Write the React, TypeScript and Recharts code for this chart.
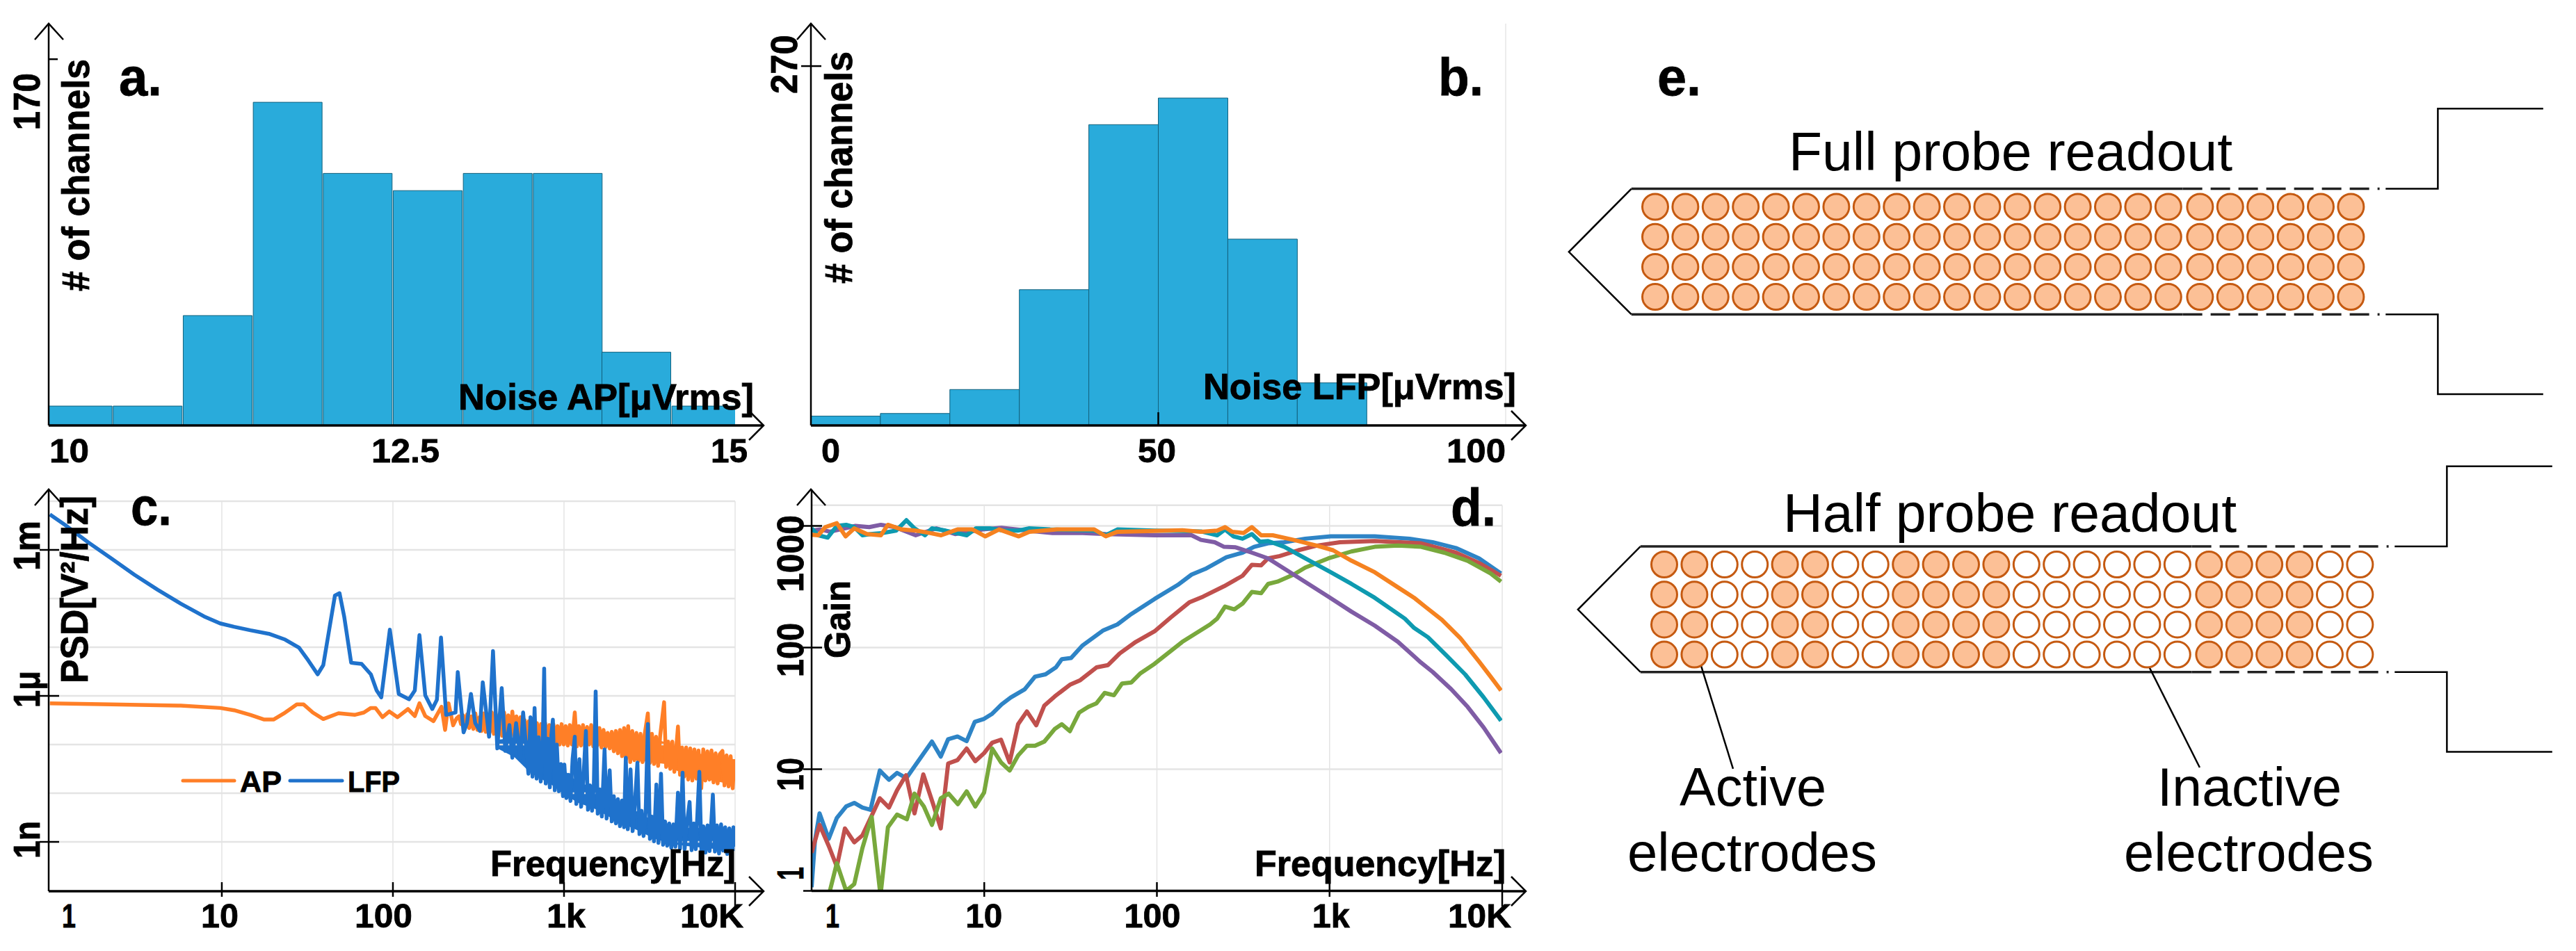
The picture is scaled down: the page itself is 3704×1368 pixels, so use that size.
import { Area, Bar, ComposedChart, Line, ReferenceLine, Scatter, XAxis, YAxis } from 'recharts';

const PAGE_W = 3704;
const PAGE_H = 1368;
const FONT = '"Liberation Sans", Arial, sans-serif';

// a. histogram of AP noise, [bin centre in uVrms, channels]
const apNoiseBins = [10.21, 10.72, 11.23, 11.74, 12.25, 12.76, 13.27, 13.78, 14.28, 14.79];
const apNoiseCounts = [9, 9, 51, 150, 117, 109, 117, 117, 34, 9];

// b. histogram of LFP noise
const lfpNoiseBins = [5, 15, 25, 35, 45, 55, 65, 75];
const lfpNoiseCounts = [7, 9, 27, 102, 226, 246, 140, 32];

// c. PSD, pairs of [log10 Hz, log10 V2/Hz]
const lfpPsd = [
  [-0.005, -2.27], [0.083, -2.486], [0.218, -2.843], [0.354, -3.176], [0.489, -3.51], [0.625, -3.82], [0.76, -4.105],
  [0.896, -4.367], [0.99, -4.51], [1.072, -4.58], [1.167, -4.652], [1.275, -4.724], [1.37, -4.843], [1.451, -5.01],
  [1.505, -5.27], [1.56, -5.557], [1.593, -5.367], [1.627, -4.652], [1.661, -3.938], [1.688, -3.89], [1.715, -4.367],
  [1.756, -5.319], [1.817, -5.343], [1.871, -5.557], [1.905, -5.89], [1.932, -6.03], [1.982, -4.64], [2.034, -5.96],
  [2.094, -6.07], [2.128, -5.89], [2.155, -4.75], [2.189, -5.99], [2.23, -6.27], [2.257, -6.08], [2.281, -4.8],
  [2.311, -6.39], [2.366, -6.34], [2.379, -5.51], [2.413, -6.75], [2.433, -6.56], [2.456, -5.96], [2.481, -6.56],
  [2.508, -6.72], [2.525, -5.72], [2.562, -6.84], [2.585, -5.08], [2.61, -7.08], [2.636, -5.84], [2.657, -7.13],
  [2.681, -6.6], [2.698, -7.27], [2.72, -6.56], [2.745, -7.27], [2.761, -6.34], [2.792, -7.6], [2.804, -6.44],
  [2.816, -7.66], [2.828, -6.25], [2.84, -7.7], [2.852, -6.85], [2.864, -7.76], [2.876, -6.9], [2.884, -5.44],
  [2.893, -7.8], [2.905, -6.88], [2.917, -7.88], [2.926, -6.8], [2.935, -6.49], [2.946, -7.94], [2.958, -7.0],
  [2.97, -7.96], [2.982, -7.4], [2.994, -8.06], [3.002, -7.41], [3.014, -8.1], [3.026, -7.62], [3.038, -8.16],
  [3.05, -7.3], [3.063, -6.84], [3.072, -8.22], [3.082, -7.72], [3.09, -7.3], [3.1, -8.28], [3.112, -7.78],
  [3.128, -6.72], [3.14, -8.34], [3.152, -7.84], [3.164, -8.36], [3.174, -7.86], [3.185, -5.91], [3.197, -8.42],
  [3.209, -7.92], [3.221, -8.48], [3.237, -7.1], [3.249, -8.52], [3.258, -8.0], [3.267, -7.53], [3.279, -8.58],
  [3.291, -8.06], [3.303, -8.62], [3.315, -8.12], [3.327, -8.68], [3.339, -8.15], [3.351, -8.7], [3.361, -7.27],
  [3.373, -8.74], [3.389, -7.51], [3.401, -8.78], [3.413, -8.28], [3.429, -7.37], [3.441, -8.84], [3.453, -8.36],
  [3.465, -8.88], [3.477, -8.4], [3.49, -6.58], [3.502, -8.94], [3.514, -8.48], [3.526, -8.99], [3.54, -7.82],
  [3.552, -9.02], [3.567, -7.6], [3.579, -9.06], [3.591, -8.58], [3.603, -9.08], [3.615, -8.62], [3.627, -9.12],
  [3.639, -8.64], [3.651, -9.1], [3.666, -7.99], [3.678, -9.14], [3.693, -7.58], [3.705, -9.15], [3.717, -8.66],
  [3.734, -8.18], [3.746, -9.17], [3.758, -8.62], [3.77, -9.15], [3.791, -7.56], [3.803, -9.18], [3.815, -8.68],
  [3.827, -9.22], [3.839, -8.66], [3.851, -9.19], [3.87, -8.03], [3.882, -9.2], [3.894, -8.66], [3.906, -9.24],
  [3.918, -8.64], [3.93, -9.18], [3.942, -8.7], [3.954, -9.25], [3.966, -8.72], [3.978, -9.22], [3.99, -8.7], [4.0, -9.1],
];

const apPsd = [
  [-0.005, -6.152], [0.354, -6.176], [0.76, -6.2], [0.99, -6.248], [1.072, -6.295], [1.167, -6.39], [1.248, -6.486],
  [1.302, -6.486], [1.37, -6.343], [1.438, -6.176], [1.478, -6.176], [1.532, -6.343], [1.593, -6.476], [1.682, -6.357],
  [1.776, -6.39], [1.83, -6.343], [1.871, -6.248], [1.898, -6.248], [1.939, -6.438], [1.979, -6.32], [2.027, -6.438],
  [2.088, -6.271], [2.128, -6.414], [2.155, -6.152], [2.189, -6.414], [2.237, -6.519], [2.284, -6.224], [2.305, -6.7],
  [2.325, -6.152], [2.352, -6.605], [2.372, -6.462], [2.386, -6.42], [2.398, -6.58], [2.41, -6.4], [2.422, -6.62],
  [2.434, -6.38], [2.446, -6.66], [2.458, -6.42], [2.47, -6.68], [2.482, -6.36], [2.494, -6.7], [2.506, -6.44],
  [2.518, -6.72], [2.53, -6.36], [2.542, -6.74], [2.554, -6.4], [2.566, -6.75], [2.578, -6.34], [2.59, -6.78],
  [2.602, -6.38], [2.614, -6.8], [2.626, -6.36], [2.638, -6.82], [2.65, -6.34], [2.662, -6.8], [2.674, -6.4],
  [2.686, -6.84], [2.698, -6.32], [2.71, -6.82], [2.722, -6.42], [2.734, -6.86], [2.746, -6.44], [2.758, -6.84],
  [2.77, -6.5], [2.782, -6.88], [2.794, -6.52], [2.806, -6.86], [2.818, -6.56], [2.83, -6.9], [2.842, -6.56],
  [2.854, -6.92], [2.866, -6.58], [2.878, -6.9], [2.89, -6.56], [2.902, -6.94], [2.914, -6.6], [2.926, -6.96],
  [2.938, -6.58], [2.95, -6.98], [2.962, -6.62], [2.974, -7.0], [2.986, -6.58], [2.998, -7.0], [3.01, -6.62],
  [3.022, -7.02], [3.034, -6.6], [3.046, -7.0], [3.063, -6.34], [3.075, -7.04], [3.087, -6.62], [3.099, -7.02],
  [3.111, -6.6], [3.123, -7.04], [3.135, -6.64], [3.147, -7.0], [3.159, -6.6], [3.171, -7.04], [3.183, -6.6],
  [3.195, -7.02], [3.207, -6.66], [3.219, -7.06], [3.231, -6.7], [3.243, -7.05], [3.255, -6.76], [3.267, -7.08],
  [3.279, -6.74], [3.291, -7.14], [3.303, -6.72], [3.315, -7.18], [3.327, -6.7], [3.339, -7.24], [3.351, -6.66],
  [3.363, -7.3], [3.375, -6.62], [3.387, -7.36], [3.399, -6.72], [3.411, -7.32], [3.423, -6.76], [3.435, -7.34],
  [3.447, -6.78], [3.459, -7.36], [3.471, -6.8], [3.49, -6.36], [3.502, -7.38], [3.514, -6.78], [3.526, -7.4],
  [3.538, -6.84], [3.55, -7.44], [3.562, -6.82], [3.585, -6.13], [3.597, -7.46], [3.609, -6.94], [3.621, -7.5],
  [3.633, -6.94], [3.645, -7.56], [3.666, -6.63], [3.678, -7.62], [3.69, -7.06], [3.702, -7.66], [3.714, -7.06],
  [3.726, -7.72], [3.738, -7.08], [3.75, -7.74], [3.762, -7.1], [3.774, -7.7], [3.786, -7.12], [3.802, -7.9],
  [3.814, -7.1], [3.826, -7.74], [3.838, -7.14], [3.85, -7.72], [3.862, -7.12], [3.874, -7.78], [3.886, -7.18],
  [3.898, -7.8], [3.91, -7.2], [3.926, -7.13], [3.938, -7.84], [3.95, -7.22], [3.962, -7.86], [3.974, -7.24],
  [3.986, -7.9], [3.996, -7.3],
];

// envelope of the noise floor, [log10 Hz, lower, upper]
const apFloor = [
  [2.386, -6.56, -6.44], [2.576, -6.69, -6.42], [2.711, -6.78, -6.4], [2.846, -6.83, -6.62], [2.982, -6.93, -6.64],
  [3.185, -6.97, -6.66], [3.253, -7.0, -6.81], [3.389, -7.31, -6.76], [3.592, -7.4, -6.95], [3.66, -7.54, -7.07],
  [3.795, -7.69, -7.19], [3.996, -7.83, -7.33],
];
const lfpFloor = [
  [2.616, -7.09, -6.9], [2.711, -7.26, -6.86], [2.806, -7.59, -6.86], [2.928, -7.83, -6.9], [2.982, -7.97, -7.47],
  [3.077, -8.19, -7.76], [3.185, -8.33, -7.9], [3.307, -8.57, -8.14], [3.429, -8.76, -8.38], [3.524, -8.93, -8.57],
  [3.619, -9.04, -8.69], [3.727, -9.09, -8.71], [3.863, -9.14, -8.71], [4.0, -9.19, -8.76],
];

// d. gain, pairs of [log10 Hz, log10 gain]
const gainBlue = [
  [0, 0.03], [0.019, 0.408], [0.046, 0.637], [0.099, 0.427], [0.146, 0.599], [0.2, 0.694], [0.247, 0.723], [0.294, 0.685],
  [0.341, 0.666], [0.395, 0.989], [0.448, 0.913], [0.495, 0.97], [0.549, 0.927], [0.603, 1.037], [0.697, 1.227],
  [0.748, 1.104], [0.791, 1.247], [0.845, 1.269], [0.898, 1.231], [0.945, 1.389], [0.999, 1.414], [1.046, 1.456],
  [1.1, 1.532], [1.153, 1.589], [1.234, 1.656], [1.294, 1.761], [1.355, 1.78], [1.415, 1.837], [1.449, 1.904],
  [1.503, 1.914], [1.57, 2.018], [1.69, 2.142], [1.771, 2.19], [1.852, 2.276], [1.986, 2.399], [2.12, 2.514], [2.201, 2.6],
  [2.281, 2.647], [2.402, 2.742], [2.496, 2.78], [2.563, 2.828], [2.644, 2.857], [2.738, 2.866], [2.859, 2.895],
  [3.007, 2.914], [3.262, 2.914], [3.463, 2.895], [3.597, 2.866], [3.732, 2.818], [3.866, 2.733], [3.993, 2.609],
];
const gainRed = [
  [0, 0.313], [0.046, 0.542], [0.099, 0.37], [0.146, 0.2], [0.193, 0.513], [0.247, 0.399], [0.294, 0.456], [0.348, 0.618],
  [0.395, 0.761], [0.448, 0.685], [0.495, 0.827], [0.547, 0.951], [0.596, 0.637], [0.647, 0.957], [0.704, 0.713],
  [0.748, 0.513], [0.791, 1.047], [0.845, 1.075], [0.898, 1.17], [0.948, 1.066], [0.999, 1.132], [1.046, 1.218],
  [1.097, 1.243], [1.147, 1.056], [1.196, 1.37], [1.247, 1.475], [1.301, 1.361], [1.348, 1.523], [1.409, 1.599],
  [1.496, 1.694], [1.556, 1.732], [1.65, 1.837], [1.717, 1.856], [1.785, 1.952], [1.878, 2.047], [1.986, 2.133],
  [2.08, 2.247], [2.187, 2.371], [2.268, 2.419], [2.389, 2.504], [2.496, 2.59], [2.55, 2.68], [2.604, 2.676], [2.644, 2.733],
  [2.711, 2.752], [2.819, 2.8], [2.926, 2.838], [3.06, 2.866], [3.262, 2.876], [3.53, 2.857], [3.732, 2.78], [3.866, 2.695],
  [3.993, 2.59],
];
const gainGreen = [
  [0.099, -0.039], [0.146, 0.227], [0.2, 0], [0.247, 0.056], [0.294, 0.351], [0.348, 0.608], [0.399, -0.039], [0.442, 0.523],
  [0.495, 0.627], [0.552, 0.589], [0.596, 0.799], [0.65, 0.694], [0.697, 0.542], [0.748, 0.761], [0.794, 0.799],
  [0.847, 0.713], [0.898, 0.818], [0.948, 0.694], [0.999, 0.808], [1.046, 1.17], [1.097, 1.056], [1.147, 0.989],
  [1.196, 1.113], [1.247, 1.193], [1.294, 1.193], [1.348, 1.227], [1.409, 1.332], [1.449, 1.37], [1.496, 1.313],
  [1.55, 1.466], [1.603, 1.513], [1.65, 1.542], [1.697, 1.627], [1.751, 1.608], [1.798, 1.704], [1.852, 1.713],
  [1.905, 1.789], [1.986, 1.866], [2.147, 2.047], [2.308, 2.19], [2.349, 2.238], [2.395, 2.337], [2.449, 2.314],
  [2.496, 2.361], [2.55, 2.457], [2.604, 2.447], [2.644, 2.523], [2.698, 2.542], [2.792, 2.6], [2.859, 2.657],
  [2.993, 2.733], [3.127, 2.79], [3.262, 2.828], [3.396, 2.838], [3.53, 2.828], [3.664, 2.78], [3.799, 2.714],
  [3.933, 2.609], [3.993, 2.542],
];
const gainPurple = [
  [0, 2.961], [0.053, 2.971], [0.106, 2.952], [0.254, 3.0], [0.334, 2.99], [0.401, 3.009], [0.482, 2.99], [0.603, 2.923],
  [0.723, 2.98], [0.831, 2.933], [0.992, 2.971], [1.1, 2.984], [1.247, 2.961], [1.395, 2.942], [1.57, 2.942], [1.704, 2.933],
  [1.986, 2.923], [2.201, 2.923], [2.255, 2.885], [2.335, 2.866], [2.389, 2.828], [2.456, 2.824], [2.55, 2.78],
  [2.644, 2.733], [2.792, 2.6], [2.993, 2.419], [3.127, 2.295], [3.262, 2.18], [3.396, 2.047], [3.53, 1.876], [3.597, 1.8],
  [3.705, 1.657], [3.799, 1.514], [3.893, 1.342], [3.993, 1.133],
];
const gainTeal = [
  [0, 2.98], [0.039, 2.923], [0.093, 2.904], [0.146, 3.0], [0.2, 3.009], [0.247, 2.99], [0.294, 2.923], [0.341, 2.933],
  [0.415, 2.942], [0.489, 2.961], [0.549, 3.047], [0.596, 2.98], [0.657, 2.923], [0.697, 2.98], [0.777, 2.961],
  [0.898, 2.923], [0.952, 2.98], [1.032, 2.98], [1.113, 2.961], [1.194, 2.961], [1.261, 2.98], [1.382, 2.971], [1.637, 2.961],
  [1.704, 2.923], [1.771, 2.971], [1.986, 2.961], [2.255, 2.955], [2.349, 2.923], [2.395, 2.971], [2.443, 2.914],
  [2.496, 2.895], [2.55, 2.933], [2.597, 2.87], [2.644, 2.876], [2.738, 2.828], [2.859, 2.733], [3.007, 2.619],
  [3.127, 2.523], [3.262, 2.409], [3.436, 2.238], [3.49, 2.161], [3.57, 2.085], [3.678, 1.933], [3.785, 1.78], [3.893, 1.59],
  [3.993, 1.399],
];
const gainOrange = [
  [0, 2.927], [0.039, 2.923], [0.079, 2.99], [0.146, 3.022], [0.197, 2.914], [0.247, 2.98], [0.321, 2.933], [0.401, 2.923],
  [0.442, 3.009], [0.522, 2.971], [0.603, 2.961], [0.683, 2.942], [0.75, 2.923], [0.845, 2.971], [0.932, 2.971],
  [1.006, 2.914], [1.086, 2.971], [1.2, 2.914], [1.261, 2.952], [1.422, 2.971], [1.637, 2.971], [1.704, 2.914],
  [1.771, 2.952], [1.986, 2.958], [2.147, 2.965], [2.255, 2.952], [2.349, 2.961], [2.395, 2.99], [2.436, 2.952],
  [2.503, 2.942], [2.55, 2.99], [2.604, 2.923], [2.671, 2.923], [2.792, 2.885], [2.926, 2.838], [3.02, 2.8], [3.127, 2.714],
  [3.262, 2.619], [3.396, 2.495], [3.49, 2.409], [3.557, 2.333], [3.651, 2.228], [3.758, 2.076], [3.866, 1.885],
  [3.933, 1.761], [3.993, 1.647],
];

// e. electrode grid and probe outline, in electrode pitches
const electrodeColumns = [0, 1, 2, 3, 4, 5, 6, 7, 8, 9, 10, 11, 12, 13, 14, 15, 16, 17, 18.05, 19.05, 20.05, 21.05, 22.05, 23.05];
const electrodeRows = [0, 1, 2, 3];
const halfActiveColumns = [0, 1, 4, 5, 8, 9, 10, 11, 18.05, 19.05, 20.05, 21.05];
const probeTip = [[-0.79, -0.6], [-2.86, 1.5], [-0.79, 3.58]];
const probeTop = [[-0.79, -0.6], [17.48, -0.6]];
const probeBottom = [[-0.79, 3.58], [17.48, 3.58]];
const probeShankTop = [[17.48, -0.6], [24, -0.6]];
const probeShankBottom = [[17.48, 3.58], [24, 3.58]];
const probeBaseTop = [[24.2, -0.6], [25.93, -0.6], [25.93, -3.27], [29.42, -3.27]];
const probeBaseBottom = [[24.2, 3.58], [25.93, 3.58], [25.93, 6.24], [29.42, 6.24]];
const activeLeader = [[1.13, 3.08], [2.28, 6.8]];
const inactiveLeader = [[15.83, 2.94], [17.74, 6.76]];

const toRows = (pairs: number[][]) => pairs.map(([x, y]) => ({ x, y }));
const toRangeRows = (rows: number[][]) => rows.map(([x, low, high]) => ({ x, y: [low, high] }));
// the axes keep 1px of the chart box, so the plot lands exactly on the frame
const frame = (left: number, top: number, right: number, bottom: number) => ({
  left: left - 1,
  top,
  right: PAGE_W - right,
  bottom: PAGE_H - bottom - 1,
});

function Layer({ children }: { children: React.ReactNode }) {
  return <div style={{ position: 'absolute', left: 0, top: 0, width: PAGE_W, height: PAGE_H }}>{children}</div>;
}

// stretched text so that each label fills the span it has in the figure
function HText({ x0, x1, y, size, bold = true, children }: any) {
  return (
    <text
      x={x0}
      y={y}
      fontFamily={FONT}
      fontSize={size}
      fontWeight={bold ? 700 : 400}
      fill="#000"
      stroke={bold ? '#000' : 'none'}
      strokeWidth={bold ? 0.8 : 0}
      textLength={x1 - x0}
      lengthAdjust="spacingAndGlyphs"
    >
      {children}
    </text>
  );
}

function VText({ x, y0, y1, size, children }: any) {
  return (
    <text
      x={x}
      y={y1}
      transform={`rotate(-90 ${x} ${y1})`}
      fontFamily={FONT}
      fontSize={size}
      fontWeight={700}
      fill="#000"
      stroke="#000"
      strokeWidth={0.8}
      textLength={y1 - y0}
      lengthAdjust="spacingAndGlyphs"
    >
      {children}
    </text>
  );
}

// x tick: spec is [value, label, dx to label centre, label width, tick top, tick bottom]
const xTick = (specs: any[], baseline: number, axisY: number) => (p: any) => {
  const spec = specs.find((s) => s[0] === p.payload.value);
  if (!spec) return <g />;
  const [, label, dx, w, up, down] = spec;
  return (
    <g>
      {up ? <line x1={p.x} x2={p.x} y1={axisY - up} y2={axisY + down} stroke="#000" strokeWidth={2.5} /> : null}
      <HText x0={p.x + dx - w / 2} x1={p.x + dx + w / 2} y={baseline} size={49}>
        {label}
      </HText>
    </g>
  );
};

// y tick: spec is [value, label, dy to label centre, label length]
const yTick = (specs: any[], textX: number, lineX0: number, lineX1: number) => (p: any) => {
  const spec = specs.find((s) => s[0] === p.payload.value);
  if (!spec) return <g />;
  const [, label, dy, len] = spec;
  return (
    <g>
      <line x1={lineX0} x2={lineX1} y1={p.y} y2={p.y} stroke="#000" strokeWidth={2.5} />
      <VText x={textX} y0={p.y + dy - len / 2} y1={p.y + dy + len / 2} size={54}>
        {label}
      </VText>
    </g>
  );
};

function Histogram({ bins, counts, plot, domain, yMax, xTicks, yTicks, xSpecs, ySpecs, yTextX, yLine, extra }: any) {
  const rows = bins.map((center: number, i: number) => ({ center, count: counts[i] }));
  return (
    <Layer>
      <ComposedChart width={PAGE_W} height={PAGE_H} data={rows} margin={plot} barCategoryGap={0} barGap={0}>
        <XAxis
          dataKey="center"
          type="number"
          domain={domain}
          allowDataOverflow
          ticks={xTicks}
          interval={0}
          height={1}
          tickLine={false}
          axisLine={{ stroke: '#000', strokeWidth: 3.5 }}
          tick={xTick(xSpecs, 665, 612)}
        />
        <YAxis
          type="number"
          domain={[0, yMax]}
          allowDataOverflow
          ticks={yTicks}
          interval={0}
          width={1}
          tickLine={false}
          axisLine={{ stroke: '#000', strokeWidth: 2.5 }}
          tick={yTick(ySpecs, yTextX, yLine[0], yLine[1])}
        />
        {extra}
        <Bar dataKey="count" fill="#29ABDB" stroke="#13607C" strokeWidth={1} isAnimationActive={false} />
      </ComposedChart>
    </Layer>
  );
}

function Spectrum({ plot, domainX, domainY, horizontals, verticals, gridTop, gridBottom, xSpecs, ySpecs, yTextX, yLine, series, width }: any) {
  return (
    <Layer>
      <ComposedChart width={PAGE_W} height={PAGE_H} margin={plot}>
        <XAxis
          dataKey="x"
          type="number"
          domain={domainX}
          allowDataOverflow
          ticks={[0, 1, 2, 3, 4]}
          interval={0}
          height={1}
          tickLine={false}
          axisLine={{ stroke: '#000', strokeWidth: 3.5 }}
          tick={xTick(xSpecs, 1334, 1282)}
        />
        <YAxis
          type="number"
          domain={domainY}
          allowDataOverflow
          ticks={ySpecs.map((s: any[]) => s[0])}
          interval={0}
          width={1}
          tickLine={false}
          axisLine={{ stroke: '#000', strokeWidth: 2.5 }}
          tick={yTick(ySpecs, yTextX, yLine[0], yLine[1])}
        />
        {horizontals.map((v: number) => (
          <ReferenceLine key={v} y={v} stroke="#E4E4E4" strokeWidth={2.5} />
        ))}
        {verticals.map((v: number) => (
          <ReferenceLine key={v} segment={[{ x: v, y: gridBottom }, { x: v, y: gridTop }]} stroke="#E4E4E4" strokeWidth={1.5} />
        ))}
        {series.flatMap((s: any) => [
          s.floor ? (
            <Area
              key={`${s.name}-floor`}
              data={toRangeRows(s.floor)}
              dataKey="y"
              type="linear"
              stroke="none"
              fill={s.color}
              fillOpacity={1}
              dot={false}
              activeDot={false}
              isAnimationActive={false}
            />
          ) : null,
          <Line
            key={s.name}
            name={s.name}
            data={toRows(s.points)}
            dataKey="y"
            stroke={s.color}
            strokeWidth={width}
            strokeLinejoin="round"
            dot={false}
            activeDot={false}
            isAnimationActive={false}
          />,
        ])}
      </ComposedChart>
    </Layer>
  );
}

const electrode = (fill: string) => (p: any) => <circle cx={p.cx} cy={p.cy} r={18.5} fill={fill} stroke="#C55A11" strokeWidth={3} />;
const grid = (columns: number[]) => columns.flatMap((x) => electrodeRows.map((y) => ({ x, y })));

function Probe({ left, top, active, inactive, leaders }: any) {
  const plot = { left: left - 4 * 43.4, top: top - 4 * 43.2, right: PAGE_W - (left - 4 * 43.4) - 34 * 43.4, bottom: PAGE_H - (top - 4 * 43.2) - 11 * 43.2 };
  const drawLine = (name: string, points: number[][], w: number, dash?: string) => (
    <Line
      key={name}
      data={toRows(points)}
      dataKey="y"
      stroke={w > 3 ? '#222' : '#000'}
      strokeWidth={w}
      strokeDasharray={dash}
      dot={false}
      activeDot={false}
      isAnimationActive={false}
    />
  );
  return (
    <Layer>
      <ComposedChart width={PAGE_W} height={PAGE_H} margin={plot}>
        <XAxis dataKey="x" type="number" domain={[-4, 30]} hide />
        <YAxis dataKey="y" type="number" domain={[-4, 7]} reversed hide />
        {drawLine('tip', probeTip, 2.5)}
        {drawLine('top', probeTop, 3.5)}
        {drawLine('bottom', probeBottom, 3.5)}
        {drawLine('shankTop', probeShankTop, 3.5, '28 12')}
        {drawLine('shankBottom', probeShankBottom, 3.5, '28 12')}
        {drawLine('baseTop', probeBaseTop, 2.5)}
        {drawLine('baseBottom', probeBaseBottom, 2.5)}
        {leaders.map((l: number[][], i: number) => drawLine(`leader${i}`, l, 2.5))}
        <Scatter data={active} shape={electrode('#FCC096')} isAnimationActive={false} />
        <Scatter data={inactive} shape={electrode('#FFFFFF')} isAnimationActive={false} />
      </ComposedChart>
    </Layer>
  );
}

function arrows(x: number, top: number, endX: number, axisY: number, fromX: number) {
  return (
    <g fill="none" stroke="#000" strokeWidth={2.5}>
      <polyline points={`${x - 20},${top + 23} ${x},${top} ${x + 21},${top + 23}`} />
      <polyline points={`${endX - 21},${axisY + 21} ${endX},${axisY} ${endX - 21},${axisY - 21}`} />
      <line x1={fromX} x2={endX} y1={axisY} y2={axisY} strokeWidth={3.5} />
    </g>
  );
}

export default function App() {
  const halfInactive = electrodeColumns.filter((c) => !halfActiveColumns.includes(c));
  return (
    <div style={{ position: 'absolute', left: 0, top: 0, width: PAGE_W, height: PAGE_H, background: '#fff', overflow: 'hidden' }}>
      <Histogram
        bins={apNoiseBins}
        counts={apNoiseCounts}
        plot={frame(70, 34, 1057, 612)}
        domain={[10, 15]}
        yMax={186.5}
        xTicks={[10, 12.5, 15]}
        yTicks={[170]}
        xSpecs={[[10, '10', 29.5, 57], [12.5, '12.5', 19.5, 98], [15, '15', -8.5, 53]]}
        ySpecs={[[170, '170', 61, 82]]}
        yTextX={57}
        yLine={[70, 83]}
      />
      <Histogram
        bins={lfpNoiseBins}
        counts={lfpNoiseCounts}
        plot={frame(1166, 34, 2165, 612)}
        domain={[0, 100]}
        yMax={301.9}
        xTicks={[0, 50, 100]}
        yTicks={[270]}
        xSpecs={[[0, '0', 28.5, 27], [50, '50', -2, 55, 19, 0], [100, '100', -42.5, 85]]}
        ySpecs={[[270, '270', -2.5, 85]]}
        yTextX={1146}
        yLine={[1152, 1181]}
        extra={<ReferenceLine x={100} stroke="#E6E6E6" strokeWidth={1.5} />}
      />
      <Spectrum
        plot={frame(70, 704, 1057, 1282)}
        domainX={[-0.012, 4]}
        domainY={[-10.014, -1.757]}
        horizontals={[-2, -3, -4, -5, -6, -7, -8, -9]}
        verticals={[1, 2, 3, 4]}
        gridTop={-2}
        gridBottom={-10.014}
        xSpecs={[[0, '1', 26, 20], [1, '10', -3, 54, 13, 8], [2, '100', -13.5, 83, 13, 8], [3, '1k', 3, 56, 13, 8], [4, '10K', -33.5, 91, 13, 22]]}
        ySpecs={[[-3, '1m', -6, 72], [-6, '1μ', -9.5, 53], [-9, '1n', -3, 54]]}
        yTextX={57}
        yLine={[57, 85]}
        width={5.5}
        series={[
          { name: 'AP', points: apPsd, floor: apFloor, color: '#FF7F27' },
          { name: 'LFP', points: lfpPsd, floor: lfpFloor, color: '#1F72CC' },
        ]}
      />
      <Spectrum
        plot={frame(1167, 704, 2160, 1281.5)}
        domainX={[0, 4]}
        domainY={[0, 3.3]}
        horizontals={[3.17, 3, 2, 1]}
        verticals={[1, 2, 3, 4]}
        gridTop={3.17}
        gridBottom={0}
        xSpecs={[[0, '1', 30, 20], [1, '10', -0.5, 53, 13, 8], [2, '100', -6.5, 81, 13, 8], [3, '1k', 2, 54, 13, 8], [4, '10K', -32.5, 91, 13, 22]]}
        ySpecs={[[3, '1000', 40, 111], [2, '100', 3.5, 78], [1, '10', 7.5, 48], [0, '1', -25, 19]]}
        yTextX={1155}
        yLine={[1155, 1182]}
        width={6}
        series={[
          { name: 'blue', points: gainBlue, color: '#2E84C6' },
          { name: 'red', points: gainRed, color: '#C0504D' },
          { name: 'green', points: gainGreen, color: '#78A83C' },
          { name: 'purple', points: gainPurple, color: '#7F5CA5' },
          { name: 'teal', points: gainTeal, color: '#0E9AB0' },
          { name: 'orange', points: gainOrange, color: '#F58220' },
        ]}
      />
      <Probe left={2380} top={297.5} active={grid(electrodeColumns)} inactive={[]} leaders={[]} />
      <Probe left={2393} top={812} active={grid(halfActiveColumns)} inactive={grid(halfInactive)} leaders={[activeLeader, inactiveLeader]} />
      <svg width={PAGE_W} height={PAGE_H} style={{ position: 'absolute', left: 0, top: 0 }}>
        {arrows(70, 34, 1098, 612, 1057)}
        {arrows(1166, 34, 2194, 612, 2165)}
        {arrows(70, 704, 1098, 1282, 1057)}
        {arrows(1166, 704, 2194, 1282, 2160)}

        <VText x={128} y0={85} y1={419} size={56}># of channels</VText>
        <HText x0={171} x1={233} y={137} size={76}>a.</HText>
        <HText x0={659} x1={1084} y={589} size={52}>Noise AP[μVrms]</HText>

        <VText x={1225} y0={74} y1={408} size={56}># of channels</VText>
        <HText x0={2068} x1={2133} y={137} size={76}>b.</HText>
        <HText x0={1730} x1={2180} y={574} size={52}>Noise LFP[μVrms]</HText>

        <VText x={126} y0={713} y1={983} size={55}>PSD[V²/Hz]</VText>
        <HText x0={188} x1={247} y={755} size={76}>c.</HText>
        <HText x0={705} x1={1058} y={1260} size={52}>Frequency[Hz]</HText>
        <line x1={263} x2={337} y1={1123} y2={1123} stroke="#FF7F27" strokeWidth={5} strokeLinecap="round" />
        <HText x0={345} x1={405} y={1139} size={43}>AP</HText>
        <line x1={417} x2={492} y1={1123} y2={1123} stroke="#1F72CC" strokeWidth={5} strokeLinecap="round" />
        <HText x0={500} x1={575} y={1139} size={43}>LFP</HText>

        <VText x={1222} y0={835} y1={947} size={52}>Gain</VText>
        <HText x0={2086} x1={2151} y={756} size={76}>d.</HText>
        <HText x0={1804} x1={2165} y={1260} size={52}>Frequency[Hz]</HText>

        <HText x0={2383} x1={2446} y={137} size={76}>e.</HText>
        <HText x0={2572} x1={3210} y={245} size={77} bold={false}>Full probe readout</HText>
        <HText x0={2564} x1={3216} y={765} size={77} bold={false}>Half probe readout</HText>
        <HText x0={2415} x1={2626} y={1159} size={77} bold={false}>Active</HText>
        <HText x0={2340} x1={2699} y={1253} size={77} bold={false}>electrodes</HText>
        <HText x0={3102} x1={3367} y={1159} size={77} bold={false}>Inactive</HText>
        <HText x0={3054} x1={3413} y={1253} size={77} bold={false}>electrodes</HText>
      </svg>
    </div>
  );
}
